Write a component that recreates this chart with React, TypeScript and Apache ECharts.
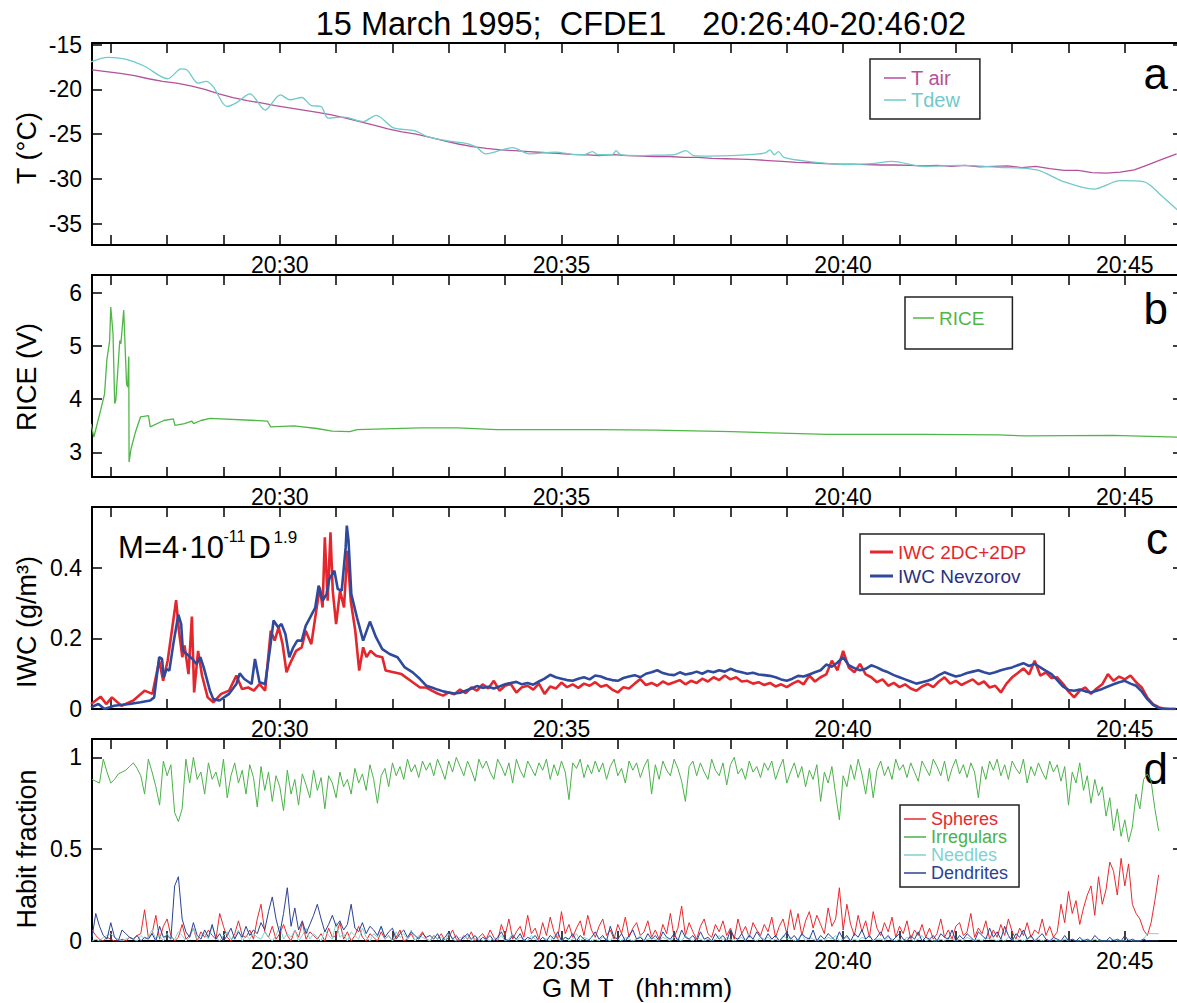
import React, { useEffect, useRef } from 'react';
import * as echarts from 'echarts';

const FONT = '"Liberation Sans", Arial, Helvetica, sans-serif';

// time axis, minutes after 20:00
const T_START = 26.667; // 20:26:40
const T_END = 46.033; // 20:46:02
const minuteTicks = [27, 28, 29, 30, 31, 32, 33, 34, 35, 36, 37, 38, 39, 40, 41, 42, 43, 44, 45];
const labelTicks = [30, 35, 40, 45];

// panel a
const tempTicks = [-35, -30, -25, -20, -15];
const tAirStart = 26.67;
const tAirStep = 0.25;
const tAir = [
  -17.8, -18.0, -18.2, -18.45, -18.8, -19.1, -19.3, -19.6, -20.0, -20.5, -20.9, -21.25, -21.5, -21.8, -22.05,
  -22.3, -22.55, -22.85, -23.2, -23.6, -24.0, -24.4, -24.75, -25.0, -25.35, -25.75, -26.1, -26.4, -26.6, -26.75,
  -26.85, -26.95, -27.05, -27.15, -27.25, -27.3, -27.4, -27.3, -27.4, -27.45, -27.5, -27.5, -27.6, -27.6, -27.7,
  -27.75, -27.8, -27.85, -27.95, -28.05, -28.15, -28.2, -28.3, -28.35, -28.35, -28.4, -28.45, -28.45, -28.5, -28.55,
  -28.5, -28.6, -28.5, -28.65, -28.6, -28.55, -28.75, -28.6, -28.85, -29.05, -29.05, -29.3, -29.35, -29.25, -29.0,
  -28.4, -27.8, -27.2,
];
const tDew = [
  [26.65, -16.9], [26.95, -16.4], [27.26, -16.6], [27.6, -17.4], [28.01, -18.8], [28.25, -17.7], [28.35, -17.8],
  [28.55, -19.3], [28.69, -19.1], [28.82, -19.7], [29.06, -21.9], [29.23, -21.5], [29.47, -20.5], [29.74, -22.3],
  [30.01, -20.6], [30.18, -21.15], [30.39, -20.9], [30.56, -21.8], [30.73, -21.9], [30.86, -23.2], [31.14, -23.1],
  [31.48, -23.6], [31.71, -22.9], [32.02, -24.3], [32.39, -24.6], [32.63, -25.3], [33.04, -25.8], [33.28, -26.0],
  [33.48, -26.4], [33.65, -27.2], [33.76, -27.1], [34.13, -26.5], [34.43, -27.2], [34.88, -27.0], [35.21, -27.25],
  [35.4, -27.3], [35.55, -26.95], [35.65, -27.3], [35.9, -27.3], [35.97, -26.85], [36.05, -27.3], [36.4, -27.4],
  [36.67, -27.35], [37.0, -27.3], [37.21, -26.85], [37.35, -27.4], [37.6, -27.45], [38.02, -27.4], [38.4, -27.25],
  [38.62, -27.1], [38.7, -26.75], [38.78, -27.3], [38.85, -26.95], [38.95, -27.6], [39.38, -28.05], [40.06, -28.4],
  [40.5, -28.3], [40.87, -28.05], [41.41, -28.6], [42.08, -28.5], [42.76, -28.7], [43.44, -29.0], [43.91, -30.3],
  [44.45, -31.15], [44.92, -30.2], [45.33, -30.3], [45.67, -32.0], [45.92, -33.4], [46.03, -34.0],
];

// panel b
const riceTicks = [3, 4, 5, 6];
const rice = [
  [26.65, 3.54], [26.7, 3.29], [26.82, 3.79], [26.89, 4.1], [26.93, 4.73], [26.98, 5.1], [27.0, 5.73], [27.04, 5.23],
  [27.07, 3.92], [27.09, 3.98], [27.16, 5.1], [27.18, 5.04], [27.23, 5.67], [27.28, 4.29], [27.3, 4.23], [27.32, 4.8],
  [27.325, 2.82], [27.36, 3.07], [27.44, 3.39], [27.53, 3.67], [27.67, 3.69], [27.7, 3.48], [27.94, 3.6], [28.11, 3.63],
  [28.14, 3.51], [28.31, 3.54], [28.44, 3.59], [28.47, 3.54], [28.6, 3.6], [28.76, 3.64], [29.78, 3.59], [29.84, 3.48],
  [30.25, 3.5], [30.66, 3.45], [30.93, 3.4], [31.24, 3.39], [31.37, 3.43], [32.5, 3.46], [33.17, 3.46], [33.85, 3.43],
  [35.67, 3.43], [36.67, 3.42], [38.02, 3.39], [39.72, 3.34], [41.41, 3.34], [42.76, 3.33], [43.23, 3.31], [44.79, 3.32],
  [45.92, 3.29], [46.03, 3.29],
];

// panel c
const iwcTicks = [0, 0.2, 0.4];
const red2dcHead = [
  [26.65, 0.014], [26.82, 0.035], [26.92, 0.014], [27.02, 0.033], [27.19, 0.009], [27.4, 0.024], [27.6, 0.052],
  [27.74, 0.043], [27.86, 0.137], [27.93, 0.08], [28.01, 0.137], [28.11, 0.251], [28.16, 0.309], [28.21, 0.222],
  [28.27, 0.147], [28.31, 0.18], [28.38, 0.099], [28.44, 0.262], [28.48, 0.047], [28.55, 0.165], [28.62, 0.095],
  [28.72, 0.033], [28.82, 0.019], [28.96, 0.043], [29.1, 0.052], [29.23, 0.095], [29.33, 0.057], [29.44, 0.061],
  [29.54, 0.052], [29.64, 0.071], [29.74, 0.052], [29.84, 0.222], [29.91, 0.194], [29.98, 0.232], [30.05, 0.184],
  [30.12, 0.104], [30.18, 0.128], [30.29, 0.165], [30.39, 0.175], [30.46, 0.222], [30.56, 0.184], [30.63, 0.26],
  [30.71, 0.345], [30.76, 0.288], [30.8, 0.487], [30.85, 0.307], [30.9, 0.501], [30.94, 0.336], [31.0, 0.241],
  [31.07, 0.336], [31.14, 0.288], [31.2, 0.449], [31.26, 0.307], [31.34, 0.222], [31.41, 0.109], [31.48, 0.175],
  [31.54, 0.147], [31.61, 0.165], [31.71, 0.151], [31.82, 0.147], [31.88, 0.109], [32.02, 0.104], [32.16, 0.099],
  [32.36, 0.076], [32.49, 0.061],
];
const nevHead = [
  [26.65, 0.005], [26.78, 0.014], [26.89, 0.0], [27.06, 0.009], [27.33, 0.014], [27.53, 0.019], [27.7, 0.024],
  [27.77, 0.033], [27.86, 0.147], [27.91, 0.142], [27.94, 0.09], [27.99, 0.113], [28.04, 0.109], [28.11, 0.184],
  [28.2, 0.268], [28.25, 0.241], [28.28, 0.165], [28.35, 0.156], [28.45, 0.142], [28.52, 0.128], [28.59, 0.147],
  [28.65, 0.118], [28.76, 0.052], [28.82, 0.028], [28.93, 0.024], [29.1, 0.043], [29.23, 0.071], [29.29, 0.101],
  [29.37, 0.085], [29.5, 0.071], [29.56, 0.142], [29.64, 0.076], [29.74, 0.071], [29.83, 0.175], [29.89, 0.251],
  [29.97, 0.232], [30.03, 0.241], [30.1, 0.213], [30.17, 0.147], [30.24, 0.175], [30.31, 0.194], [30.39, 0.194],
  [30.46, 0.236], [30.54, 0.26], [30.63, 0.288], [30.69, 0.35], [30.76, 0.307], [30.83, 0.326], [30.88, 0.369],
  [30.97, 0.392], [31.03, 0.34], [31.1, 0.336], [31.17, 0.459], [31.19, 0.52], [31.22, 0.478], [31.27, 0.326],
  [31.37, 0.26], [31.48, 0.194], [31.6, 0.248], [31.71, 0.203], [31.82, 0.17], [31.95, 0.156], [32.09, 0.147],
  [32.22, 0.118], [32.36, 0.104], [32.49, 0.085],
];
const tailStart = 32.6;
const tailStep = 0.1;
const red2dcTail = [
  61, 52, 44, 38, 47, 42, 55, 45, 61, 52, 70, 58, 80, 52, 66, 71, 47, 62, 66, 55, 72, 43, 64, 58, 75, 62, 70, 60, 72, 66,
  76, 63, 68, 55, 47, 62, 58, 72, 85, 68, 74, 66, 78, 70, 76, 82, 70, 80, 74, 86, 78, 90, 82, 95, 84, 90, 78, 80, 72, 76,
  68, 74, 64, 70, 62, 72, 80, 70, 95, 78, 90, 98, 137, 110, 165, 118, 104, 128, 98, 90, 76, 84, 66, 74, 62, 70, 58, 52,
  64, 71, 62, 78, 90, 72, 80, 68, 76, 84, 70, 78, 61, 66, 47, 72, 90, 102, 115, 98, 137, 95, 104, 88, 90, 72, 50, 33, 52,
  61, 43, 58, 70, 99, 80, 92, 84, 95, 76, 61, 32, 14, 5, 1, 0, 0,
];
const nevTail = [
  66, 61, 55, 50, 47, 44, 46, 52, 58, 65, 60, 63, 58, 64, 70, 74, 77, 70, 74, 69, 78, 86, 97, 90, 86, 82, 80, 86, 90, 84,
  95, 92, 86, 82, 80, 88, 92, 96, 90, 100, 104, 110, 102, 98, 96, 104, 98, 101, 106, 100, 108, 104, 110, 106, 114, 108,
  104, 100, 103, 98, 96, 94, 90, 84, 80, 86, 94, 92, 98, 104, 110, 126, 120, 132, 147, 124, 116, 110, 114, 124, 118, 110,
  104, 96, 90, 84, 78, 72, 76, 80, 86, 96, 104, 98, 92, 96, 102, 106, 110, 104, 100, 104, 110, 114, 118, 124, 130, 122,
  128, 118, 108, 99, 82, 64, 54, 52, 55, 50, 47, 52, 57, 64, 70, 76, 80, 72, 66, 50, 28, 12, 3, 0, 0, 0,
];

// panel d (percent, one value every 4 s from 20:26:40)
const habitTicks = [0, 0.5, 1];
const habitStep = 1 / 15;
const spheresPct = [
  6, 3, 1, 0, 2, 1, 0, 0, 1, 0, 2, 1, 3, 4, 17,
  2, 4, 14, 1, 8, 12, 3, 0, 2, 9, 1, 3, 7, 0, 5,
  2, 6, 3, 1, 15, 8, 2, 0, 4, 11, 3, 2, 6, 1, 12,
  20, 5, 2, 8, 1, 4, 9, 3, 0, 6, 2, 10, 1, 5, 3,
  1, 4, 0, 7, 2, 3, 10, 1, 5, 0, 3, 8, 2, 0, 4,
  2, 0, 5, 1, 3, 0, 2, 6, 0, 1, 4, 0, 2, 5, 1,
  0, 3, 1, 4, 0, 2, 6, 1, 0, 3, 1, 5, 0, 2, 4,
  1, 6, 2, 0, 9, 3, 12, 1, 5, 8, 2, 14, 4, 7, 1,
  10, 3, 13, 5, 1, 16, 4, 9, 2, 7, 11, 3, 14, 6, 2,
  8, 12, 3, 6, 1, 9, 4, 13, 2, 7, 10, 3, 5, 11, 2,
  6, 1, 9, 4, 15, 2, 7, 19, 3, 10, 5, 1, 8, 12, 4,
  2, 9, 5, 11, 3, 7, 1, 12, 4, 8, 2, 10, 6, 3, 9,
  5, 13, 2, 8, 12, 4, 17, 6, 15, 3, 11, 16, 7, 14, 9,
  4, 18, 8, 12, 29, 6, 20, 9, 3, 14, 5, 11, 2, 16, 7,
  3, 10, 5, 13, 2, 8, 4, 11, 1, 6, 3, 9, 2, 7, 1,
  4, 12, 2, 6, 1, 8, 10, 3, 5, 15, 2, 7, 4, 11, 1,
  6, 2, 9, 3, 12, 5, 1, 7, 3, 10, 2, 6, 4, 12, 3,
  8, 2, 5, 20, 10, 27, 15, 22, 9, 18, 25, 30, 14, 35, 20,
  28, 43, 38, 25, 45, 30, 42, 20, 15, 12, 6, 3, 10, 22, 36,
];
const irregularsPct = [
  88, 87, 86, 99, 92, 86, 88, 91, 92, 93, 95, 97, 94, 90, 80,
  99, 92, 84, 74, 98, 90, 96, 70, 65, 72, 99, 86, 100, 88, 92,
  80, 97, 88, 92, 84, 99, 78, 90, 97, 86, 93, 80, 96, 89, 73,
  95, 82, 92, 76, 90, 84, 71, 93, 80, 88, 74, 91, 85, 78, 93,
  82, 89, 72, 90, 86, 78, 92, 84, 88, 80, 94, 86, 91, 82, 96,
  88, 75, 90, 94, 84, 97, 90, 95, 88, 99, 92, 96, 89, 98, 93,
  97, 90, 99, 94, 88, 98, 92, 100, 95, 90, 98, 93, 87, 99, 94,
  98, 92, 88, 99, 95, 90, 97, 86, 99, 93, 89, 98, 94, 90, 97,
  93, 99, 88, 96, 90, 98, 92, 77, 97, 94, 99, 89, 96, 91, 98,
  92, 97, 88, 95, 99, 90, 94, 86, 98, 93, 97, 89, 95, 99, 80,
  96, 88, 98, 93, 90, 99, 94, 87, 76, 95, 98, 90, 97, 92, 88,
  99, 93, 90, 97, 85, 96, 100, 91, 94, 88, 98, 92, 95, 89, 97,
  93, 98, 88, 94, 99, 86, 92, 97, 89, 95, 84, 93, 88, 96, 76,
  92, 86, 95, 80, 66, 90, 84, 96, 88, 99, 91, 80, 94, 78, 93,
  98, 90, 95, 88, 99, 93, 96, 89, 97, 92, 87, 98, 94, 90, 99,
  95, 90, 98, 87, 94, 99, 91, 96, 89, 97, 92, 78, 95, 88, 98,
  93, 99, 90, 96, 88, 98, 94, 91, 99, 86, 95, 90, 97, 92, 88,
  98, 92, 96, 87, 95, 74, 92, 86, 97, 82, 90, 75, 88, 79, 84,
  68, 78, 60, 72, 57, 66, 54, 62, 80, 72, 88, 91, 87, 72, 60,
];
const needlesPct = [
  0, 1, 0, 2, 3, 4, 2, 1, 0, 1, 2, 1, 0, 3, 1,
  2, 6, 1, 3, 0, 4, 2, 1, 5, 3, 0, 2, 7, 1, 3,
  4, 1, 8, 2, 0, 3, 5, 1, 2, 6, 0, 3, 1, 4, 2,
  1, 5, 2, 0, 3, 8, 1, 4, 2, 6, 0, 3, 7, 1, 4,
  2, 0, 6, 3, 1, 10, 2, 4, 0, 5, 3, 1, 7, 2, 0,
  4, 2, 8, 1, 3, 0, 5, 2, 4, 1, 6, 0, 3, 2, 1,
  0, 3, 1, 2, 0, 4, 1, 0, 2, 1, 3, 0, 1, 2, 0,
  1, 0, 2, 1, 3, 0, 1, 4, 0, 2, 1, 0, 3, 1, 0,
  2, 1, 0, 3, 1, 0, 2, 0, 1, 4, 0, 2, 1, 0, 1,
  0, 2, 1, 0, 3, 1, 0, 2, 1, 0, 1, 3, 0, 1, 2,
  1, 0, 2, 1, 0, 2, 1, 0, 3, 1, 0, 2, 1, 0, 1,
  0, 1, 3, 0, 2, 1, 0, 1, 2, 0, 4, 1, 0, 2, 1,
  2, 0, 1, 0, 3, 1, 2, 0, 1, 4, 0, 2, 1, 0, 1,
  0, 2, 1, 3, 0, 1, 2, 0, 1, 0, 2, 1, 3, 0, 1,
  1, 0, 2, 1, 0, 1, 0, 2, 1, 0, 1, 3, 0, 1, 0,
  0, 1, 0, 2, 1, 0, 1, 0, 2, 1, 0, 1, 0, 2, 1,
  1, 0, 1, 0, 2, 1, 0, 1, 0, 1, 2, 0, 1, 0, 1,
  0, 1, 0, 0, 1, 0, 1, 0, 0, 1, 0, 0, 1, 0, 0,
  0, 0, 1, 0, 0, 0, 1, 0, 0, 0, 1, 4, 4, 4, 4,
];
const dendritesPct = [
  2, 15, 8, 3, 1, 10, 2, 0, 6, 4, 2, 1, 3, 0, 2,
  1, 4, 0, 8, 2, 3, 1, 30, 35, 12, 5, 2, 10, 3, 1,
  6, 2, 9, 1, 4, 0, 3, 7, 1, 5, 2, 8, 3, 6, 4,
  10, 6, 16, 24, 12, 4, 15, 29, 8, 18, 6, 11, 4, 9, 14,
  20, 12, 5, 9, 14, 8, 11, 6, 9, 20, 7, 5, 10, 4, 8,
  6, 3, 8, 2, 5, 7, 1, 4, 6, 2, 5, 3, 1, 4, 2,
  3, 1, 4, 0, 2, 5, 1, 3, 0, 2, 4, 1, 3, 0, 2,
  1, 3, 0, 2, 5, 1, 0, 3, 1, 4, 0, 2, 1, 3, 0,
  2, 0, 3, 1, 5, 0, 2, 1, 4, 0, 3, 1, 0, 2, 5,
  1, 3, 0, 8, 2, 1, 4, 0, 3, 6, 1, 2, 0, 4, 1,
  3, 0, 5, 2, 1, 4, 0, 6, 2, 1, 3, 0, 5, 1, 2,
  0, 4, 1, 3, 0, 6, 2, 1, 4, 0, 3, 1, 5, 2, 0,
  4, 1, 3, 0, 2, 5, 1, 3, 0, 4, 2, 1, 6, 0, 3,
  1, 4, 2, 0, 5, 1, 3, 0, 4, 2, 6, 1, 3, 0, 2,
  5, 1, 3, 0, 2, 4, 1, 0, 3, 1, 5, 0, 2, 1, 3,
  0, 4, 2, 1, 6, 0, 3, 1, 4, 2, 0, 5, 3, 1, 7,
  2, 5, 1, 8, 3, 0, 4, 2, 6, 1, 3, 0, 2, 4, 1,
  0, 2, 1, 0, 3, 0, 1, 0, 2, 0, 1, 0, 3, 1, 0,
  0, 2, 0, 1, 0, 3, 0, 1, 0, 0, 1, 0, 0, 0, 0,
];

const COLORS = {
  tair: '#b4519c',
  tdew: '#6fcaca',
  rice: '#4fb748',
  red: '#e3272c',
  nev: '#2f4a9c',
  nevText: '#2b2f80',
  spheres: '#e8292e',
  irregulars: '#4bb249',
  needles: '#82d1d1',
  dendrites: '#2b4196',
};

const regular = (vals: number[], start: number, step: number, scale: number) =>
  vals.map((v, i) => [start + i * step, v * scale]);

const GRID_TOPS = [43, 275, 507, 739];
const GRID_H = 202;
const Y_RANGES: [number, number][] = [[-37.4, -14.8], [2.54, 6.33], [0, 0.573], [0, 1.1]];
const Y_TICKS = [tempTicks, riceTicks, iwcTicks, habitTicks];

function buildOption() {
  const axisLine = { show: true, onZero: false, lineStyle: { color: '#000', width: 2 } };
  const tickStyle = { color: '#000', width: 1.5 };
  const xAxis: any[] = [];
  const yAxis: any[] = [];
  GRID_TOPS.forEach((_, g) => {
    const base = {
      type: 'value', gridIndex: g, min: T_START, max: T_END,
      axisLine, splitLine: { show: false },
      axisTick: { show: true, inside: true, length: 10, customValues: minuteTicks, lineStyle: tickStyle },
    };
    xAxis.push({
      ...base, position: 'bottom',
      axisLabel: {
        show: true, customValues: labelTicks, margin: 8, fontSize: 23, color: '#000', fontFamily: FONT,
        formatter: (v: number) => '20:' + String(Math.round(v)).padStart(2, '0'),
      },
    });
    xAxis.push({ ...base, position: 'top', axisLabel: { show: false } });
    const ybase = {
      type: 'value', gridIndex: g, min: Y_RANGES[g][0], max: Y_RANGES[g][1],
      axisLine, splitLine: { show: false },
      axisTick: { show: true, inside: true, length: 10, customValues: Y_TICKS[g], lineStyle: tickStyle },
    };
    yAxis.push({
      ...ybase, position: 'left',
      axisLabel: { show: true, customValues: Y_TICKS[g], margin: 10, fontSize: 23, color: '#000', fontFamily: FONT },
    });
    yAxis.push({ ...ybase, position: 'right', axisLabel: { show: false } });
  });

  const line = (name: string, g: number, data: any[], color: string, width: number, extra: any = {}) => ({
    type: 'line', name, data, xAxisIndex: 2 * g, yAxisIndex: 2 * g, color,
    showSymbol: false, symbol: 'none', lineStyle: { color, width }, clip: true, ...extra,
  });

  const series = [
    line('T air', 0, regular(tAir, tAirStart, tAirStep, 1), COLORS.tair, 1.3),
    line('Tdew', 0, tDew, COLORS.tdew, 1.3, { smooth: 0.3 }),
    line('RICE', 1, rice, COLORS.rice, 1.3),
    line('IWC 2DC+2DP', 2, red2dcHead.concat(regular(red2dcTail, tailStart, tailStep, 0.001)), COLORS.red, 2.6),
    line('IWC Nevzorov', 2, nevHead.concat(regular(nevTail, tailStart, tailStep, 0.001)), COLORS.nev, 2.6),
    line('Spheres', 3, regular(spheresPct, T_START, habitStep, 0.01), COLORS.spheres, 1),
    line('Irregulars', 3, regular(irregularsPct, T_START, habitStep, 0.01), COLORS.irregulars, 1),
    line('Needles', 3, regular(needlesPct, T_START, habitStep, 0.01), COLORS.needles, 1),
    line('Dendrites', 3, regular(dendritesPct, T_START, habitStep, 0.01), COLORS.dendrites, 1),
  ];

  const legendBase = {
    orient: 'vertical', icon: 'rect', selectedMode: false, borderColor: '#222', borderWidth: 1.5,
    backgroundColor: '#fff',
  };
  const legend = [
    {
      ...legendBase, left: 870, top: 59, itemWidth: 22, itemHeight: 1.5, itemGap: 2, padding: [9, 20, 9, 14],
      textStyle: { fontSize: 20, fontFamily: FONT, lineHeight: 20 },
      data: [
        { name: 'T air', textStyle: { color: COLORS.tair } },
        { name: 'Tdew', textStyle: { color: COLORS.tdew } },
      ],
    },
    {
      ...legendBase, left: 905, top: 297, itemWidth: 21, itemHeight: 1.5, itemGap: 2, padding: [11, 28, 21, 8],
      textStyle: { fontSize: 19, fontFamily: FONT, lineHeight: 20 },
      data: [{ name: 'RICE', textStyle: { color: COLORS.rice } }],
    },
    {
      ...legendBase, left: 860, top: 534, itemWidth: 23, itemHeight: 3, itemGap: 4, padding: [8, 18, 8, 10],
      textStyle: { fontSize: 19, fontFamily: FONT, lineHeight: 20 },
      data: [
        { name: 'IWC 2DC+2DP', textStyle: { color: COLORS.red } },
        { name: 'IWC Nevzorov', textStyle: { color: COLORS.nevText } },
      ],
    },
    {
      ...legendBase, left: 900, top: 805, itemWidth: 22, itemHeight: 1.5, itemGap: 0, padding: [5, 11, 5, 4],
      textStyle: { fontSize: 18, fontFamily: FONT, lineHeight: 17.5 },
      data: [
        { name: 'Spheres', textStyle: { color: COLORS.spheres } },
        { name: 'Irregulars', textStyle: { color: COLORS.irregulars } },
        { name: 'Needles', textStyle: { color: COLORS.needles } },
        { name: 'Dendrites', textStyle: { color: COLORS.dendrites } },
      ],
    },
  ];

  const txt = (text: string, x: number, y: number, size: number, extra: any = {}, styleExtra: any = {}) => ({
    type: 'text', x, y, silent: true, ...extra,
    style: { text, fontSize: size, fontFamily: FONT, fill: '#000', align: 'center', verticalAlign: 'middle', ...styleExtra },
  });
  const rot = { rotation: Math.PI / 2 };

  const graphic = [
    txt('15 March 1995;\u00a0 CFDE1\u00a0\u00a0\u00a0 20:26:40-20:46:02', 641, 24, 32.5),
    txt('G M T\u00a0\u00a0 (hh:mm)', 637, 988, 26),
    txt('T (°C)', 27, 148, 27, rot),
    txt('RICE (V)', 27, 377, 27, rot),
    txt('IWC (g/m³)', 27, 622, 27, rot),
    txt('Habit fraction', 27, 849, 27, rot),
    txt('a', 1168, 73, 44, {}, { align: 'right' }),
    txt('b', 1168, 308, 44, {}, { align: 'right' }),
    txt('c', 1168, 538, 44, {}, { align: 'right' }),
    txt('d', 1168, 768, 44, {}, { align: 'right' }),
    txt('M=4·10', 118, 547.5, 31, {}, { align: 'left' }),
    txt('-11', 223.5, 536, 16, {}, { align: 'left' }),
    txt('D', 248.5, 547.5, 31, {}, { align: 'left' }),
    txt('1.9', 273.5, 537, 17, {}, { align: 'left' }),
  ];

  return {
    animation: false,
    backgroundColor: '#ffffff',
    textStyle: { fontFamily: FONT },
    grid: GRID_TOPS.map((top) => ({ left: 92, right: 7, top, height: GRID_H })),
    xAxis,
    yAxis,
    legend,
    series,
    graphic,
  };
}

export default function App() {
  const ref = useRef<HTMLDivElement>(null);
  useEffect(() => {
    if (!ref.current) return;
    const chart = echarts.init(ref.current, undefined, { renderer: 'svg' });
    chart.setOption(buildOption() as any);
    return () => chart.dispose();
  }, []);
  return (
    <div style={{ position: 'absolute', left: 0, top: 0, width: 1177, height: 1003, overflow: 'hidden', background: '#fff' }}>
      <div ref={ref} style={{ width: 1190, height: 1003 }} />
    </div>
  );
}
